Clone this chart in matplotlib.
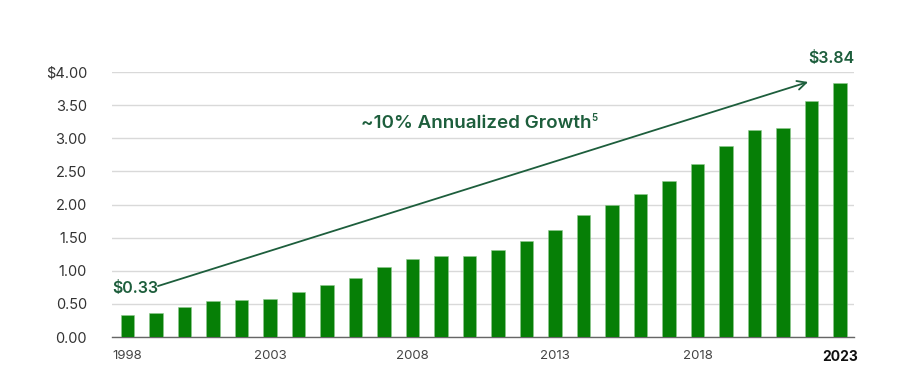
import numpy as np
import matplotlib
matplotlib.use("Agg")
import matplotlib.pyplot as plt

# dividends per share
years = np.arange(1998, 2024)
values = [0.33, 0.36, 0.46, 0.55, 0.56, 0.58, 0.68, 0.79, 0.89, 1.065,
          1.18, 1.22, 1.22, 1.31, 1.45, 1.62, 1.84, 2.00, 2.16, 2.35,
          2.61, 2.89, 3.12, 3.16, 3.57, 3.84]
xtick_years = [1998, 2003, 2008, 2013, 2018, 2023]
yticks = [0, 0.5, 1.0, 1.5, 2.0, 2.5, 3.0, 3.5, 4.0]
ytick_labels = ["0.00", "0.50", "1.00", "1.50", "2.00", "2.50", "3.00", "3.50", "$4.00"]
start_label = "$0.33"
end_label = "$3.84"
growth_label = "~10% Annualized Growth"

bar_color = "#067f06"
text_green = "#1d5e3c"

plt.rcParams.update({
    "font.family": ["Inter", "DejaVu Sans"],
    "font.size": 10,
})

fig = plt.figure(figsize=(9, 3.8), dpi=100)
ax = fig.add_axes([0.1244, 0.113, 0.8245, 0.6974])

ax.bar(years, values, width=0.46, color=bar_color, edgecolor="#8fc98f",
       linewidth=0.4, zorder=3)

ax.set_xlim(1997.456, 2023.49)
ax.set_ylim(0, 4.0)

ax.set_yticks(yticks)
ax.set_yticklabels(ytick_labels, fontsize=10.5, color="#333333")
ax.set_xticks(xtick_years)
ax.set_xticklabels([str(y) for y in xtick_years], fontsize=9.5, color="#444444")
lbl = ax.get_xticklabels()[-1]
lbl.set_fontweight("bold")
lbl.set_color("#111111")
lbl.set_fontsize(10)

ax.tick_params(axis="y", length=0, pad=18)
ax.tick_params(axis="x", length=0, pad=9)

for s in ["top", "right", "left"]:
    ax.spines[s].set_visible(False)
ax.spines["bottom"].set_color("#666666")
ax.spines["bottom"].set_linewidth(1.0)

ax.yaxis.grid(True, color="#d9d9d9", linewidth=1.0, zorder=0)
ax.set_axisbelow(True)

# growth arrow
ax.annotate("", xy=(2021.88, 3.85), xytext=(1999.07, 0.77),
            arrowprops=dict(arrowstyle="->", color=text_green, lw=1.3,
                            mutation_scale=16, shrinkA=0, shrinkB=0),
            zorder=4)

ax.text(1997.48, 0.74, start_label, color=text_green, fontsize=11.5,
        fontweight="semibold", ha="left", va="center")
ax.text(2023.49, 4.2, end_label, color=text_green, fontsize=11.5,
        fontweight="semibold", ha="right", va="center", clip_on=False)

t = ax.text(2010.25, 3.22, growth_label, color=text_green, fontsize=13.5,
            fontweight="semibold", ha="center", va="center")

# footnote marker, placed after measuring the main label
fig.canvas.draw()
bb = t.get_window_extent()
fig.text((bb.x1 - 1) / fig.bbox.width, (bb.y1 + 2) / fig.bbox.height, "5",
         color=text_green, fontsize=7, fontweight="semibold",
         ha="left", va="top")

fig.savefig("out.png", dpi=100)
